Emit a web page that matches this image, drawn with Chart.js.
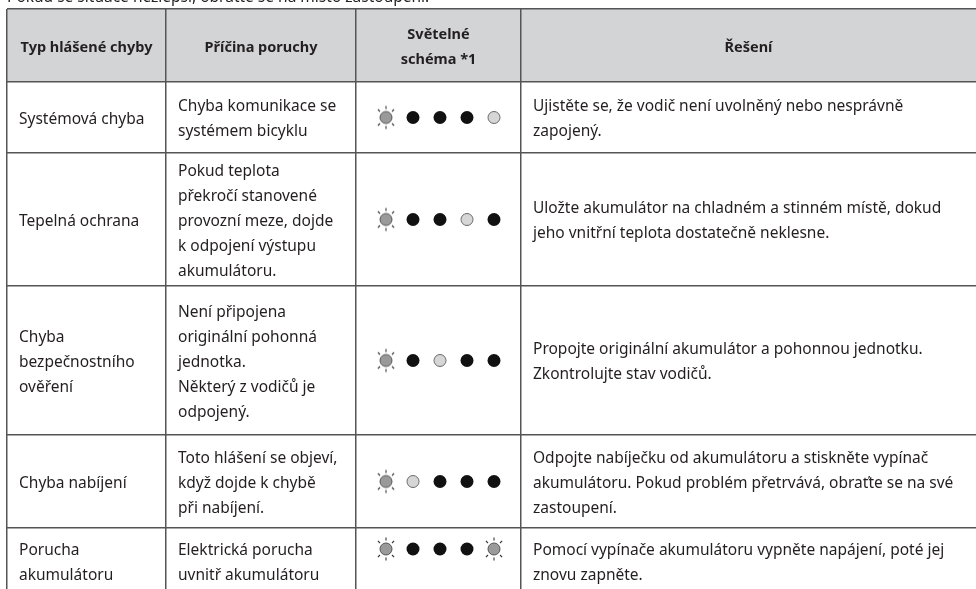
<!DOCTYPE html>
<html><head><meta charset="utf-8">
<script src="https://cdn.jsdelivr.net/npm/chart.js@4.4.1/dist/chart.umd.min.js"></script>
<style>html,body{margin:0;padding:0;background:#fff;overflow:hidden}#wrap{width:976px;height:589px;position:relative}</style>
</head><body><div id="wrap"><canvas id="c" width="976" height="589"></canvas></div>
<script>
// ---- data ----
const noteText = 'Pokud se situace nezlepší, obraťte se na místo zastoupení.';
const headers = ['Typ hlášené chyby', 'Příčina poruchy', 'Světelné\nschéma *1', 'Řešení'];
const errorTypes = ['Systémová chyba', 'Tepelná ochrana', 'Chyba\nbezpečnostního\nověření', 'Chyba nabíjení', 'Porucha\nakumulátoru'];
const causes = [
  'Chyba komunikace se\nsystémem bicyklu',
  'Pokud teplota\npřekročí stanovené\nprovozní meze, dojde\nk odpojení výstupu\nakumulátoru.',
  'Není připojena\noriginální pohonná\njednotka.\nNěkterý z vodičů je\nodpojený.',
  'Toto hlášení se objeví,\nkdyž dojde k chybě\npři nabíjení.',
  'Elektrická porucha\nuvnitř akumulátoru'
];
const lightPatterns = [
  ['blink', 'on', 'on', 'on', 'off'],
  ['blink', 'on', 'on', 'off', 'on'],
  ['blink', 'on', 'off', 'on', 'on'],
  ['blink', 'off', 'on', 'on', 'on'],
  ['blink', 'on', 'on', 'on', 'blink']
];
const solutions = [
  'Ujistěte se, že vodič není uvolněný nebo nesprávně\nzapojený.',
  'Uložte akumulátor na chladném a stinném místě, dokud\njeho vnitřní teplota dostatečně neklesne.',
  'Propojte originální akumulátor a pohonnou jednotku.\nZkontrolujte stav vodičů.',
  'Odpojte nabíječku od akumulátoru a stiskněte vypínač\nakumulátoru. Pokud problém přetrvává, obraťte se na své\nzastoupení.',
  'Pomocí vypínače akumulátoru vypněte napájení, poté jej\nznovu zapněte.'
];

// ---- layout (styles / positions) ----
const colEdges = [7, 166, 356, 521, 976];
const rowEdges = [9, 82, 153, 286, 435, 528, 600];
const LINE = 25;
const PAD = 12;
const TEXT_DY = 2;
const LED_STEP = 27;
const LED_CENTER = 440;
const FONT = '"Noto Sans", "Open Sans", sans-serif';
const BODY_SIZE = 15.5;
const HEAD_SIZE = 14.5;
const TEXT_COLOR = '#231f20';
const lastRowFirstLine = 21;

function rowAnchor(r) {
  const top = rowEdges[r + 1], bot = rowEdges[r + 2];
  if (r === errorTypes.length - 1) return { top: true, y: top + lastRowFirstLine };
  return { top: false, y: (top + bot) / 2 };
}

function makeBlinkIcon() {
  const c = document.createElement('canvas');
  c.width = 28; c.height = 28;
  const g = c.getContext('2d');
  const cx = 14, cy = 14;
  g.beginPath(); g.arc(cx, cy, 6, 0, Math.PI * 2);
  g.fillStyle = '#9a9a9a'; g.fill();
  g.lineWidth = 1; g.strokeStyle = '#555'; g.stroke();
  g.strokeStyle = '#333'; g.lineWidth = 1.1;
  [-135, -90, -45, 45, 90, 135].forEach(a => {
    const t = a * Math.PI / 180;
    g.beginPath();
    g.moveTo(cx + Math.cos(t) * 8.5, cy + Math.sin(t) * 8.5);
    g.lineTo(cx + Math.cos(t) * 11.5, cy + Math.sin(t) * 11.5);
    g.stroke();
  });
  return c;
}
const blinkIcon = makeBlinkIcon();

function pointsFor(state) {
  const pts = [];
  lightPatterns.forEach((row, r) => {
    row.forEach((s, i) => {
      if (s === state) pts.push({ x: LED_CENTER + (i - 2) * LED_STEP, y: rowAnchor(r).y });
    });
  });
  return pts;
}

const tablePlugin = {
  id: 'table',
  beforeDraw(chart) {
    const { ctx, scales: { x, y } } = chart;
    ctx.save();
    ctx.fillStyle = '#fff';
    ctx.fillRect(0, 0, chart.width, chart.height);
    ctx.fillStyle = '#d3d4d6';
    const x0 = x.getPixelForValue(colEdges[0]), x1 = x.getPixelForValue(colEdges[colEdges.length - 1]);
    const y0 = y.getPixelForValue(rowEdges[0]), y1 = y.getPixelForValue(rowEdges[1]);
    ctx.fillRect(x0, y0, x1 - x0, y1 - y0);
    ctx.restore();
  },
  afterDraw(chart) {
    const { ctx, scales: { x, y } } = chart;
    ctx.save();
    ctx.fillStyle = TEXT_COLOR;
    ctx.font = BODY_SIZE + 'px ' + FONT;
    ctx.textAlign = 'left'; ctx.textBaseline = 'alphabetic';
    ctx.fillText(noteText, 7, 2);

    ctx.textBaseline = 'middle';
    ctx.font = 'bold ' + HEAD_SIZE + 'px ' + FONT;
    ctx.textAlign = 'center';
    const hc = (rowEdges[0] + rowEdges[1]) / 2 + TEXT_DY;
    headers.forEach((h, c) => {
      const lines = h.split('\n');
      const cx = x.getPixelForValue((colEdges[c] + colEdges[c + 1]) / 2);
      lines.forEach((ln, k) => {
        ctx.fillText(ln, cx, y.getPixelForValue(hc + (k - (lines.length - 1) / 2) * LINE));
      });
    });
    ctx.font = BODY_SIZE + 'px ' + FONT;
    ctx.textAlign = 'left';
    const cols = [[errorTypes, 0], [causes, 1], [solutions, 3]];
    for (let r = 0; r < errorTypes.length; r++) {
      const a = rowAnchor(r);
      cols.forEach(([arr, c]) => {
        const lines = arr[r].split('\n');
        const tx = x.getPixelForValue(colEdges[c] + PAD);
        const first = (a.top ? a.y : a.y - (lines.length - 1) * LINE / 2) + TEXT_DY;
        lines.forEach((ln, k) => ctx.fillText(ln, tx, y.getPixelForValue(first + k * LINE)));
      });
    }
    ctx.restore();
  }
};

new Chart(document.getElementById('c'), {
  type: 'scatter',
  data: {
    datasets: [
      { label: 'on', data: pointsFor('on'), pointStyle: 'circle', pointRadius: 6.5, backgroundColor: '#111', borderColor: '#111', borderWidth: 0, clip: false },
      { label: 'off', data: pointsFor('off'), pointStyle: 'circle', pointRadius: 6, backgroundColor: '#d6d6d6', borderColor: '#6a6a6a', borderWidth: 1, clip: false },
      { label: 'blink', data: pointsFor('blink'), pointStyle: blinkIcon, pointRadius: 14, clip: false }
    ]
  },
  options: {
    responsive: false,
    animation: false,
    events: [],
    devicePixelRatio: 1,
    layout: { autoPadding: false, padding: { left: 7, top: 9, right: 0, bottom: 0 } },
    plugins: { legend: { display: false }, tooltip: { enabled: false } },
    scales: {
      x: {
        type: 'linear', min: colEdges[0], max: colEdges[colEdges.length - 1],
        ticks: { display: false }, border: { display: false },
        grid: { color: '#555', lineWidth: 1.5, drawTicks: false },
        afterBuildTicks: s => { s.ticks = colEdges.slice(0, -1).map(v => ({ value: v })); }
      },
      y: {
        type: 'linear', reverse: true, min: rowEdges[0], max: 589,
        ticks: { display: false }, border: { display: false },
        grid: { color: '#555', lineWidth: 1.5, drawTicks: false },
        afterBuildTicks: s => { s.ticks = rowEdges.slice(0, -1).map(v => ({ value: v })); }
      }
    }
  },
  plugins: [tablePlugin]
});
</script>
</body></html>
